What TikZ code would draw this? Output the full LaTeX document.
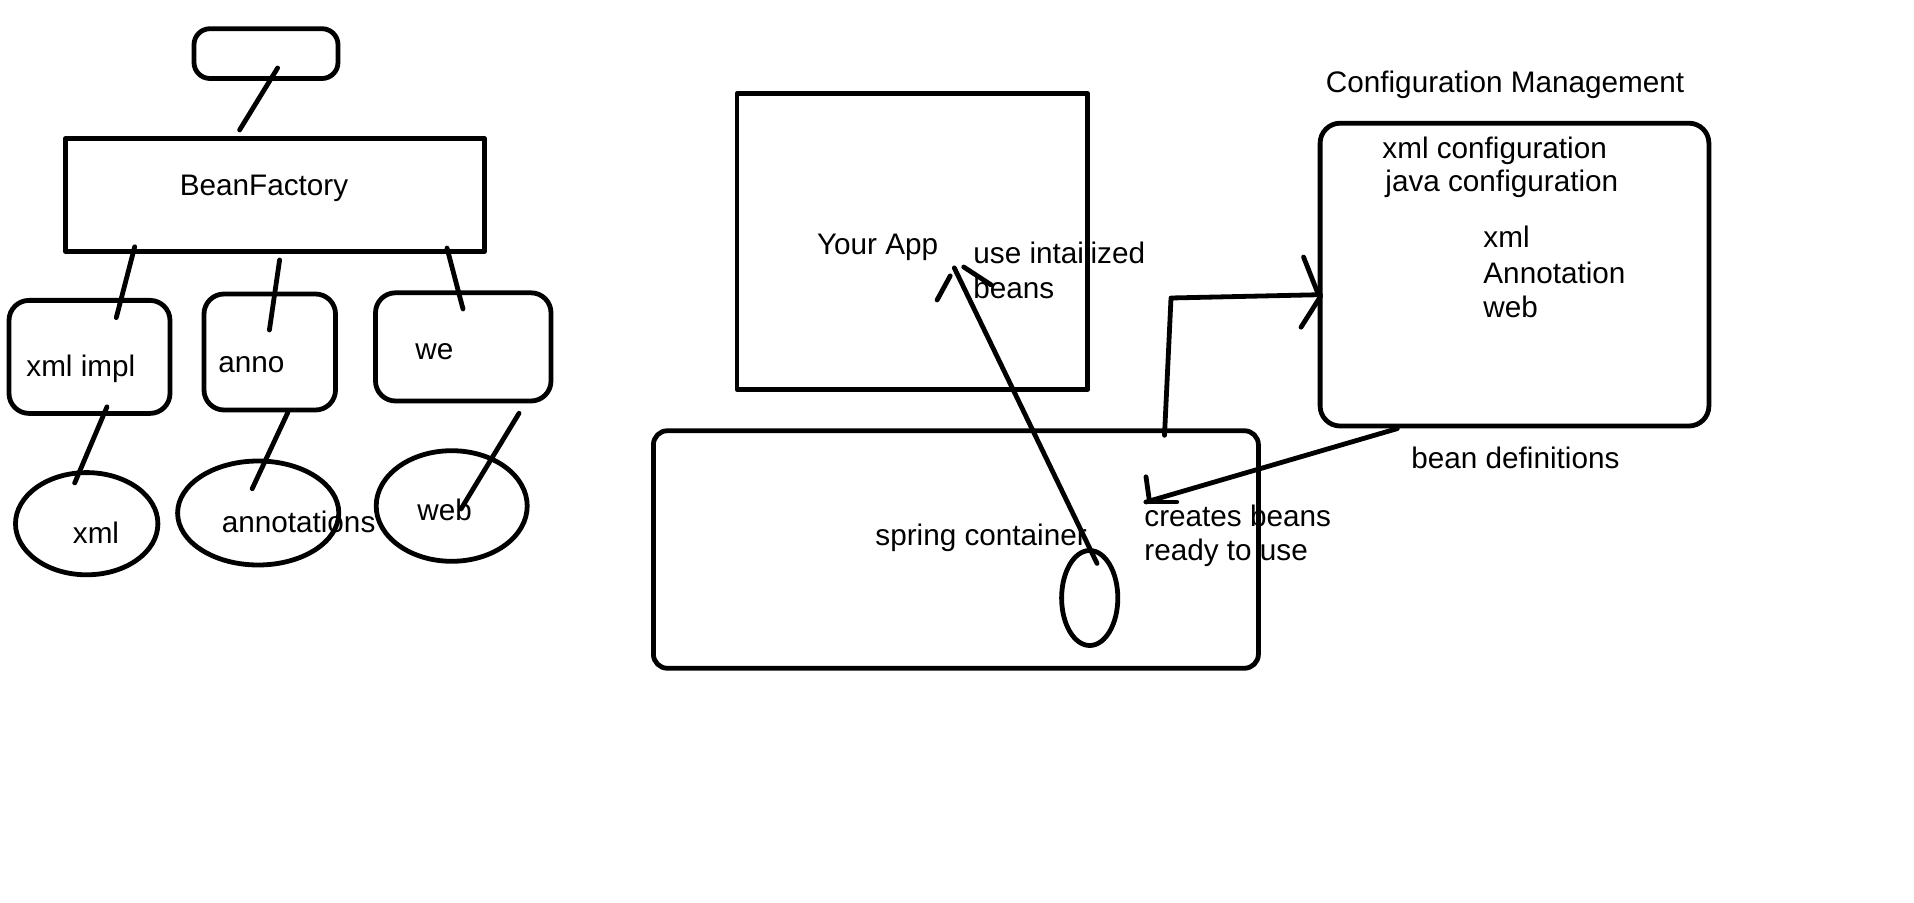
\documentclass[tikz,border=0pt]{standalone}
\usepackage{fontspec}
\setmainfont{Liberation Sans}
\usetikzlibrary{shapes.geometric}
\begin{document}
\begin{tikzpicture}[x=0.5pt,y=-0.5pt,
  line width=2.4pt, line cap=round, line join=round,
  box/.style={draw, rectangle, inner sep=0pt, rounded corners=#1},
  box/.default=0pt,
  oval/.style={draw, ellipse, inner sep=0pt},
  lbl/.style={anchor=base west, inner sep=0pt, font=\fontsize{14.85pt}{17.8pt}\selectfont}]
\useasboundingbox (0,0) rectangle (1914,903);

% ---- left tree ----
\node[box=8pt, minimum width=72pt, minimum height=24.9pt] (top) at (266,53.6) {};
\node[box, minimum width=209.5pt, minimum height=56.5pt] (bf) at (275,195) {};
\node[box=10pt, minimum width=80.5pt, minimum height=56.5pt] (ximpl) at (89.5,356.9) {};
\node[box=10pt, minimum width=65.75pt, minimum height=58pt] (anno) at (269.75,352) {};
\node[box=10pt, minimum width=87.75pt, minimum height=54.1pt] (we) at (463.25,346.9) {};
\node[oval, minimum width=71.2pt, minimum height=51.1pt] (exml) at (86.7,523.7) {};
\node[oval, minimum width=80.6pt, minimum height=52pt] (eann) at (258.2,513) {};
\node[oval, minimum width=75.5pt, minimum height=55.3pt] (eweb) at (451.7,506) {};

\node[lbl] (tbf) at (177.4,196) {BeanFactory};
\node[lbl] (tximpl) at (24,376) {xml impl};
\node[lbl] (tanno) at (216,372.4) {anno};
\node[lbl] (twe) at (413,359) {we};
\node[lbl] (txml) at (70.5,543.4) {xml};
\node[lbl] (tann) at (219.4,532) {annotations};
\node[lbl] (tweb) at (415,520.5) {web};

\draw ([shift={(11.6,14.4)}]top.center) -- ([shift={(-35.4,-65)}]bf.center);
\draw ([shift={(-140.3,51.8)}]bf.center) -- ([shift={(26.8,-39.3)}]ximpl.center);
\draw ([shift={(4.6,65)}]bf.center) -- ([shift={(-0.35,-22)}]anno.center);
\draw ([shift={(172,53)}]bf.center) -- ([shift={(-0.25,-37.9)}]we.center);
\draw ([shift={(17.5,49.9)}]ximpl.center) -- ([shift={(-12,-40.7)}]exml.center);
\draw ([shift={(18.05,60.5)}]anno.center) -- ([shift={(-6,-24.3)}]eann.center);
\draw ([shift={(55.75,66.4)}]we.center) -- ([shift={(9.3,3)}]eweb.center);

% ---- right part ----
\node[box, minimum width=175.4pt, minimum height=147.8pt] (app) at (912.4,241.5) {};
\node[box=7pt, minimum width=302.5pt, minimum height=118.75pt] (spring) at (955.9,549.5) {};
\node[oval, minimum width=28.1pt, minimum height=47.5pt] (bean) at (1089.7,598) {};
\node[box=10pt, minimum width=194.4pt, minimum height=151.4pt] (conf) at (1514.5,274.6) {};

\node[lbl] (tapp) at (814.6,254.5) {Your App};
\node[lbl] (tuse1) at (971,263.4) {use intailized};
\node[lbl] (tuse2) at (971,298.2) {beans};
\node[lbl] (tspring) at (873,545.5) {spring container};
\node[lbl] (tcre1) at (1142,526) {creates beans};
\node[lbl] (tcre2) at (1142,560) {ready to use};
\node[lbl] (tcm) at (1323.5,92.6) {Configuration Management};
\node[lbl] (tc1) at (1380,158.8) {xml configuration};
\node[lbl] (tc2) at (1383,191.4) {java configuration};
\node[lbl] (tc3) at (1481,248) {xml};
\node[lbl] (tc4) at (1481,284) {Annotation};
\node[lbl] (tc5) at (1481,317.6) {web};
\node[lbl] (tbd) at (1409,468.8) {bean definitions};

% arrow: bean -> Your App
\coordinate (tipA) at ([shift={(41.9,26.4)}]app.center);
\draw ([shift={(7.3,-34.6)}]bean.center) -- (tipA);
\draw ([shift={(-4.1,8)}]tipA) -- ([shift={(-17.2,32.1)}]tipA);
\draw ([shift={(9.4,-0.9)}]tipA) -- ([shift={(36.7,16.9)}]tipA);

% arrow: spring container -> configuration box
\coordinate (bend) at (1171,298);
\coordinate (tipB) at ([shift={(-194.1,20.1)}]conf.center);
\draw ([shift={(208.6,-114.2)}]spring.center) -- (bend) -- (tipB);
\draw ([shift={(-16.9,-37.7)}]tipB) -- ([shift={(-3.2,-3.1)}]tipB);
\draw ([shift={(-19.4,32.5)}]tipB) -- ([shift={(0,1.9)}]tipB);

% arrow: configuration box -> spring container
\coordinate (tipC) at ([shift={(190.1,-47.5)}]spring.center);
\draw ([shift={(-117.2,154)}]conf.center) -- (tipC);
\draw ([shift={(0,-25.2)}]tipC) -- ([shift={(3.4,-1)}]tipC);
\draw (tipC) -- ([shift={(30.7,0)}]tipC);
\end{tikzpicture}
\end{document}
